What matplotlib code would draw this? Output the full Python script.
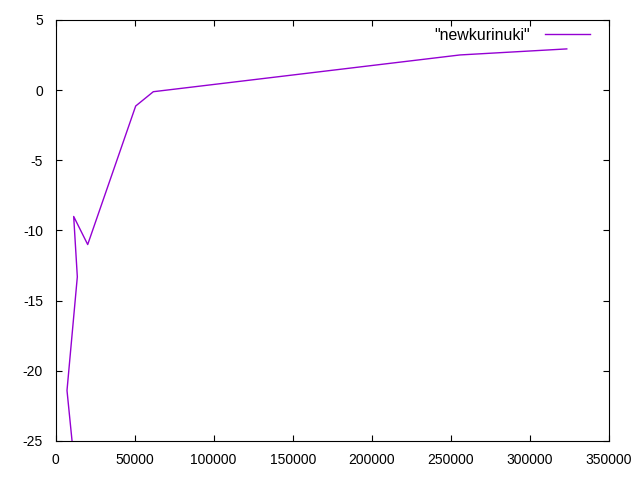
#!/usr/bin/env python3
"""Gnuplot-style line chart of the "newkurinuki" series."""

import matplotlib

matplotlib.use("Agg")
import matplotlib.pyplot as plt

plt.rcParams["font.family"] = ["Liberation Sans", "DejaVu Sans"]
plt.rcParams["axes.unicode_minus"] = False

X_VALUES = [11000, 7270, 13800, 11500, 20360, 50700, 61850, 255800, 323300]
Y_VALUES = [-25.6, -21.4, -13.3, -9.0, -11.0, -1.13, -0.11, 2.51, 2.94]
SERIES_LABEL = '"newkurinuki"'
X_TICKS = [0, 50000, 100000, 150000, 200000, 250000, 300000, 350000]
Y_TICKS = [-25, -20, -15, -10, -5, 0, 5]

fig = plt.figure(figsize=(6.4, 4.8), dpi=100)
ax = fig.add_axes([55.5 / 640, 1 - 441 / 480, 553.5 / 640, 421 / 480])

ax.plot(X_VALUES, Y_VALUES, color="#9400D3", linewidth=1.0, label=SERIES_LABEL)

ax.set_xlim(0, 350000)
ax.set_ylim(-25, 5)
ax.set_xticks(X_TICKS)
ax.set_yticks(Y_TICKS)
ax.tick_params(direction="in", top=True, right=True, length=4, width=0.8,
               labelsize=10, pad=9, colors="black")
for spine in ax.spines.values():
    spine.set_linewidth(0.8)

# legend sits top right, text first then the line sample (gnuplot style)
ax.legend(loc="upper right", bbox_to_anchor=(0.9657, 0.981), frameon=False,
          markerfirst=False, fontsize=11.4, handlelength=2.85,
          handletextpad=0.95, borderpad=0, borderaxespad=0)

fig.savefig("out.png", dpi=100)
